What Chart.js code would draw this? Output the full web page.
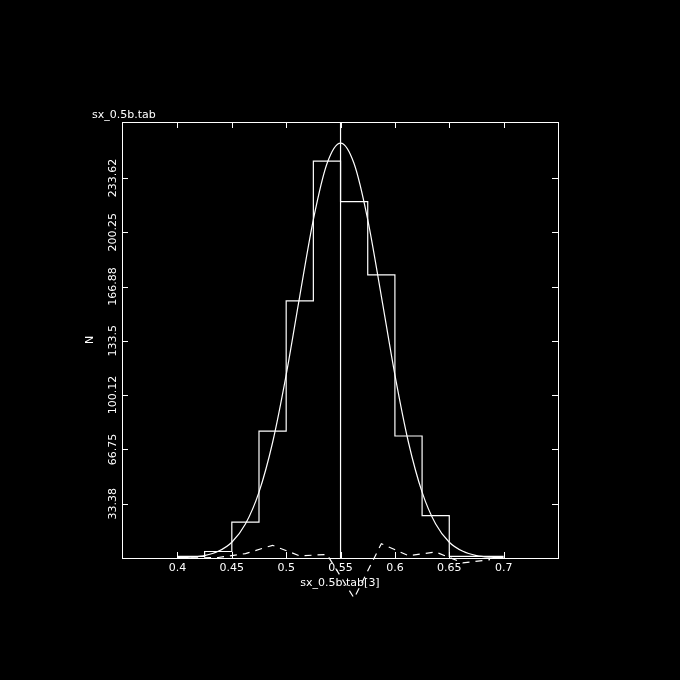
<!DOCTYPE html>
<html>
<head>
<meta charset="utf-8">
<script src="https://cdn.jsdelivr.net/npm/chart.js@4/dist/chart.umd.min.js"></script>
<style>
  html, body { margin: 0; padding: 0; background: #000; }
  canvas { display: block; }
</style>
</head>
<body>
<canvas id="histChart" width="680" height="680"></canvas>
<script>
// Histogram bins (edges) and counts
const binEdges = [0.4, 0.425, 0.45, 0.475, 0.5, 0.525, 0.55, 0.575, 0.6, 0.625, 0.65, 0.675, 0.7];
const binCounts = [1, 4, 22, 78, 158, 244, 219, 174, 75, 26, 1, 1];

// Fitted curve
const fitX = [0.4, 0.4125, 0.425, 0.4375, 0.45, 0.4625, 0.475, 0.4875, 0.5, 0.5125, 0.525, 0.5375, 0.55,
              0.5625, 0.575, 0.5875, 0.6, 0.6125, 0.625, 0.6375, 0.65, 0.6625, 0.675, 0.6875, 0.7];
const fitY = [0.2, 0.5, 1.5, 4.1, 9.7, 20.9, 40.5, 71, 112.6, 161, 208, 242.3, 255,
              242.3, 208, 161, 112.6, 71, 40.5, 20.9, 9.7, 4.1, 1.5, 0.5, 0.2];

// Residuals (dashed), at bin centres
const residX = [0.4125, 0.4375, 0.4625, 0.4875, 0.5125, 0.5375, 0.5625, 0.5875, 0.6125, 0.6375, 0.6625, 0.6875];
const residY = [0, 0.3, 2.7, 7.8, 1.3, 2.2, -24.7, 8.8, 1.4, 3.7, -3, -1];

// Mean marker
const meanX = 0.55;

// Axis ticks
const xTicks = [0.4, 0.45, 0.5, 0.55, 0.6, 0.65, 0.7];
const xTickLabels = ["0.4", "0.45", "0.5", "0.55", "0.6", "0.65", "0.7"];
const yTicks = [33.375, 66.75, 100.125, 133.5, 166.875, 200.25, 233.625];
const yTickLabels = ["33.38", "66.75", "100.12", "133.5", "166.88", "200.25", "233.62"];

const titleText = "sx_0.5b.tab";
const xTitle = "sx_0.5b.tab[3]";
const yTitle = "N";

const FG = "#ffffff";
const FONT = "11px 'DejaVu Sans'";

// Frame, ticks and labels
const framePlugin = {
    id: "frame",
    afterDraw(chart) {
        const ctx = chart.ctx;
        const a = chart.chartArea;
        const xs = chart.scales.x;
        const ys = chart.scales.y;
        const tl = 6;
        ctx.save();
        ctx.strokeStyle = FG;
        ctx.fillStyle = FG;
        ctx.lineWidth = 1;
        ctx.strokeRect(a.left + 0.5, a.top + 0.5, a.right - a.left, a.bottom - a.top);

        ctx.beginPath();
        xTicks.forEach(v => {
            const px = Math.round(xs.getPixelForValue(v)) + 0.5;
            ctx.moveTo(px, a.bottom); ctx.lineTo(px, a.bottom - tl);
            ctx.moveTo(px, a.top); ctx.lineTo(px, a.top + tl);
        });
        yTicks.forEach(v => {
            const py = Math.round(ys.getPixelForValue(v)) + 0.5;
            ctx.moveTo(a.left, py); ctx.lineTo(a.left + tl, py);
            ctx.moveTo(a.right, py); ctx.lineTo(a.right - tl, py);
        });
        ctx.stroke();

        ctx.font = FONT;
        ctx.textBaseline = "alphabetic";
        ctx.textAlign = "center";
        xTicks.forEach((v, i) => {
            ctx.fillText(xTickLabels[i], xs.getPixelForValue(v), a.bottom + 13);
        });
        yTicks.forEach((v, i) => {
            ctx.save();
            ctx.translate(a.left - 6, ys.getPixelForValue(v));
            ctx.rotate(-Math.PI / 2);
            ctx.fillText(yTickLabels[i], 0, 0);
            ctx.restore();
        });

        // axis titles
        ctx.fillText(xTitle, (a.left + a.right) / 2, a.bottom + 28);
        ctx.save();
        ctx.translate(a.left - 29, (a.top + a.bottom) / 2);
        ctx.rotate(-Math.PI / 2);
        ctx.fillText(yTitle, 0, 0);
        ctx.restore();

        ctx.textAlign = "left";
        ctx.fillText(titleText, 92, a.top - 4);
        ctx.restore();
    }
};

const histData = binEdges.map((e, i) => ({ x: e, y: binCounts[Math.min(i, binCounts.length - 1)] }));
const fitData = fitX.map((x, i) => ({ x: x, y: fitY[i] }));
const residData = residX.map((x, i) => ({ x: x, y: residY[i] }));
const yMax = 268;

new Chart(document.getElementById("histChart"), {
    type: "line",
    data: {
        datasets: [
            {
                label: "hist",
                data: histData,
                stepped: true,
                borderColor: FG,
                borderWidth: 1.2,
                pointRadius: 0
            },
            {
                label: "fit",
                data: fitData,
                cubicInterpolationMode: "monotone",
                borderColor: FG,
                borderWidth: 1.2,
                pointRadius: 0
            },
            {
                label: "resid",
                data: residData,
                borderColor: FG,
                borderWidth: 1.2,
                borderDash: [7, 6],
                pointRadius: 0,
                clip: false
            },
            {
                label: "mean",
                data: [{ x: meanX, y: 0 }, { x: meanX, y: yMax }],
                borderColor: FG,
                borderWidth: 1.2,
                pointRadius: 0
            }
        ]
    },
    options: {
        responsive: false,
        animation: false,
        layout: { padding: { left: 122, top: 122, right: 122, bottom: 122 } },
        plugins: {
            legend: { display: false },
            tooltip: { enabled: false }
        },
        scales: {
            x: { type: "linear", min: 0.349, max: 0.75, display: false },
            y: { type: "linear", min: 0, max: yMax, display: false }
        }
    },
    plugins: [framePlugin]
});
</script>
</body>
</html>
